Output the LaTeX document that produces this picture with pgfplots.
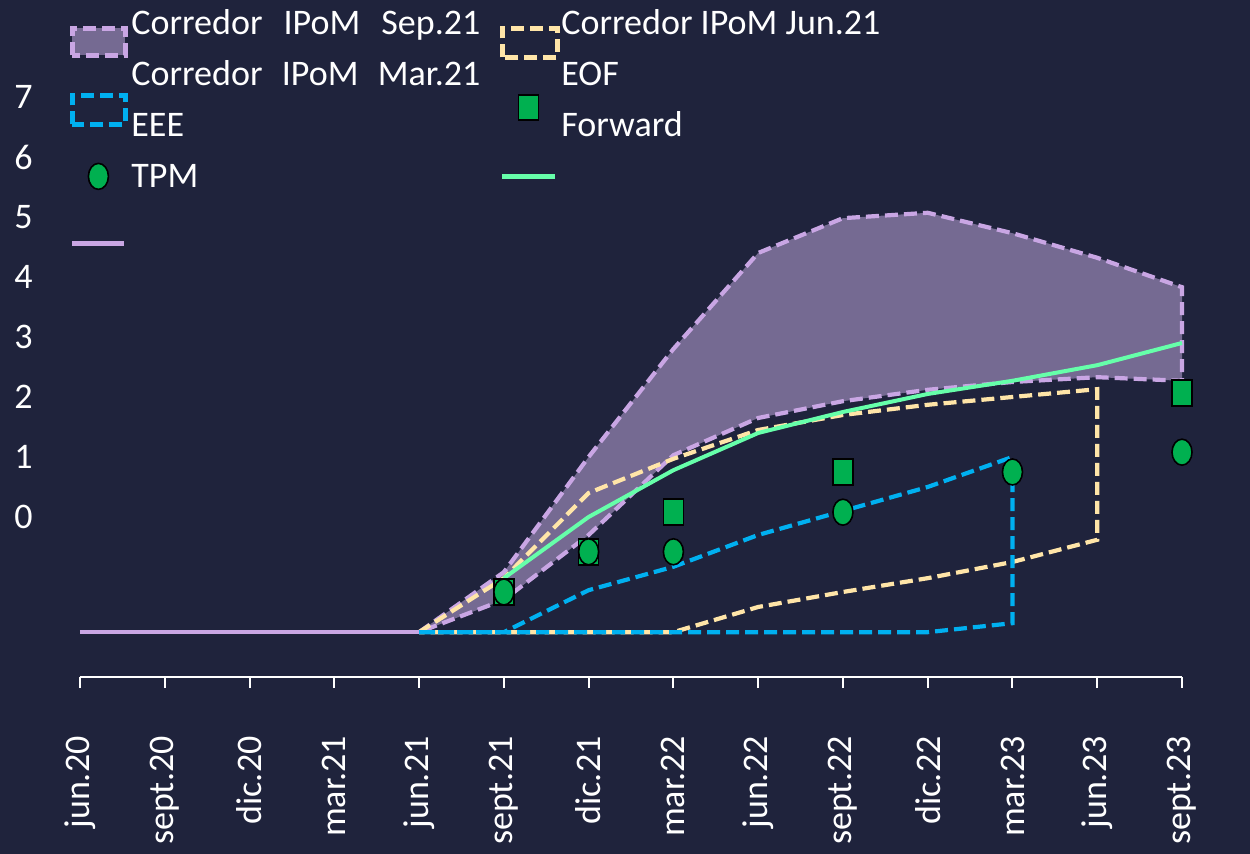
\documentclass[border=0pt]{standalone}
\usepackage{pgfplots}
\pgfplotsset{compat=1.18}
\usepackage{fontspec}
\setmainfont{Carlito}

\definecolor{bg}{RGB}{31,35,60}
\definecolor{bandfill}{RGB}{117,106,146}
\definecolor{lav}{RGB}{201,166,228}
\definecolor{ylw}{RGB}{255,229,168}
\definecolor{eee}{RGB}{0,176,240}
\definecolor{mkgreen}{RGB}{0,176,80}
\definecolor{mint}{RGB}{102,255,170}

\newcommand{\chartfont}{\fontsize{18bp}{21bp}\selectfont}
\newcommand{\legcell}{\path[draw=none, fill=none] (0,-8.25bp) rectangle (30.5bp,8.25bp);}

\pgfplotsset{
  dsh/.style={line width=2.1bp, dash pattern=on 6.5bp off 3bp},
}

\begin{document}
\begin{tikzpicture}
\fill[bg] (0,0) rectangle (625bp,427bp);
\path[use as bounding box] (0,0) rectangle (625bp,427bp);
\clip (0,0) rectangle (625bp,427bp);

\begin{axis}[
  at={(40bp,88.5bp)}, anchor=south west,
  scale only axis, width=551bp, height=305bp,
  xmin=0, xmax=13, ymin=-2.667, ymax=7.5,
  clip=false,
  axis x line*=bottom, axis y line*=left,
  x axis line style={white, line width=1bp},
  y axis line style={draw=none},
  xtick={0,...,13},
  xticklabels={jun.20,sept.20,dic.20,mar.21,jun.21,sept.21,dic.21,mar.22,jun.22,sept.22,dic.22,mar.23,jun.23,sept.23},
  ytick={0,...,7},
  tick align=outside,
  major tick length=5.5bp,
  xtick style={white, line width=1bp},
  ytick style={draw=none},
  ticklabel style={font=\chartfont, text=white, inner sep=0pt},
  xticklabel style={rotate=90, anchor=east},
  xticklabel shift=24bp,
  yticklabel shift=18bp,
  /pgf/number format/assume math mode=true,
  legend columns=2,
  legend cell align=left,
  legend style={
    at={(axis description cs:-0.00907,1.0992)}, anchor=north west,
    draw=none, fill=none, inner xsep=0pt, inner ysep=0pt,
    font=\chartfont, text=white,
    nodes={inner sep=0pt, text height=14bp, text depth=2.5bp},
    row sep=9bp, column sep=0pt,
    /tikz/every even column/.append style={column sep=10bp},
  },
]
% corredor IPoM Sep.21
\addplot[forget plot, fill=bandfill, draw=lav, dsh] coordinates {
  (4,-1.92) (5,-0.92) (6,1.0) (7,2.8) (8,4.4) (9,4.98) (10,5.07) (11,4.73) (12,4.32) (13,3.83)
  (13,2.27) (12,2.33) (11,2.25) (10,2.12) (9,1.93) (8,1.65) (7,1.03) (6,-0.3) (5,-1.38)
} --cycle;
% corredor IPoM Jun.21
\addplot[forget plot, draw=ylw, dsh] coordinates {
  (4,-1.92) (5,-1.02) (6,0.4) (7,0.97) (8,1.45) (9,1.7) (10,1.87) (11,2.0) (12,2.13)
  (12,-0.38) (11,-0.75) (10,-1.02) (9,-1.25) (8,-1.5) (7,-1.92) (6,-1.92) (5,-1.92)
} --cycle;
% historia
\addplot[forget plot, draw=lav, line width=2.2bp] coordinates {(0,-1.92) (4,-1.92)};
% EEE
\addplot[forget plot, draw=eee, dsh] coordinates {
  (4,-1.92) (5,-1.92) (6,-1.22) (7,-0.83) (8,-0.3) (9,0.1) (10,0.5) (11,1.0)
  (11,-1.77) (10,-1.92) (9,-1.92) (8,-1.92) (7,-1.92) (6,-1.92) (5,-1.92)
} --cycle;
% forward
\addplot[forget plot, draw=mint, line width=2bp] coordinates {
  (5,-1.02) (6,0.0) (7,0.78) (8,1.4) (9,1.75) (10,2.05) (11,2.27) (12,2.53) (13,2.9)
};
% EOF
\addplot[forget plot, only marks, mark=square*, mark size=6.5bp,
  mark options={xscale=0.77, fill=mkgreen, draw=black, line width=0.8bp, solid}] coordinates {
  (5,-1.25) (6,-0.58) (7,0.08) (9,0.75) (13,2.07)
};
% TPM
\addplot[forget plot, only marks, mark=*, mark size=6.5bp,
  mark options={xscale=0.77, fill=mkgreen, draw=black, line width=0.8bp, solid}] coordinates {
  (5,-1.25) (6,-0.58) (7,-0.58) (9,0.08) (11,0.75) (13,1.08)
};

% legend
\addlegendimage{legend image code/.code={\legcell
  \draw[overlay, fill=bandfill, draw=lav, line width=2.4bp, dash pattern=on 6.5bp off 3bp] (1bp,-16bp) rectangle (27.5bp,-2.5bp);}}
\addlegendentry{\makebox[174.5bp][s]{Corredor IPoM Sep.21}}
\addlegendimage{legend image code/.code={\legcell
  \draw[overlay, draw=ylw, line width=2.4bp, dash pattern=on 6.5bp off 3bp] (1bp,-17bp) rectangle (28.5bp,-2.5bp);}}
\addlegendentry{Corredor IPoM Jun.21}
\addlegendimage{legend image code/.code={\legcell}}
\addlegendentry{\makebox[174.5bp][s]{Corredor IPoM Mar.21}}
\addlegendimage{legend image code/.code={\legcell}}
\addlegendentry{EOF}
\addlegendimage{legend image code/.code={\legcell
  \draw[overlay, draw=eee, line width=2.4bp, dash pattern=on 6.5bp off 3bp] (1bp,0.5bp) rectangle (27.5bp,15bp);}}
\addlegendentry{EEE}
\addlegendimage{legend image code/.code={\legcell
  \filldraw[overlay, fill=mkgreen, draw=black, line width=0.9bp] (9bp,2.75bp) rectangle (19bp,15.25bp);}}
\addlegendentry{Forward}
\addlegendimage{legend image code/.code={\legcell
  \filldraw[overlay, fill=mkgreen, draw=black, line width=0.8bp] (14bp,0) ellipse [x radius=5bp, y radius=6.5bp];}}
\addlegendentry{TPM}
\addlegendimage{legend image code/.code={\legcell
  \draw[overlay, draw=mint, line width=2.5bp] (1bp,0) -- (27.5bp,0);}}
\addlegendentry{}
\addlegendimage{legend image code/.code={\legcell
  \draw[overlay, draw=lav, line width=2.5bp] (1bp,-8bp) -- (27bp,-8bp);}}
\addlegendentry{}
\end{axis}
\end{tikzpicture}
\end{document}
